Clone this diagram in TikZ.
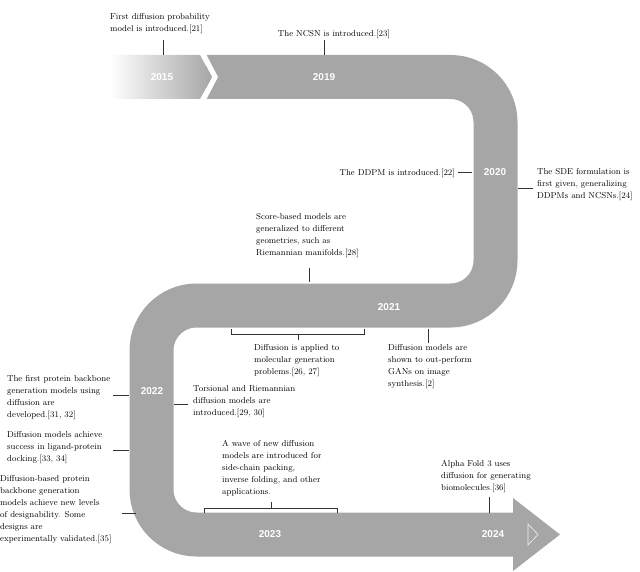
\documentclass[tikz,border=0pt]{standalone}
\usepackage{fontspec}
\newfontfamily\yearfont{Liberation Sans}
\begin{document}
\begin{tikzpicture}[x=1pt,y=-1pt,
  road/.style={draw=roadgray,line width=44pt,rounded corners=45pt},
  yr/.style={text=white,font=\yearfont\bfseries\fontsize{10}{12}\selectfont,inner sep=0},
  lab/.style={font=\fontsize{8.6}{12}\selectfont,align=left,anchor=north west,inner sep=0},
  tick/.style={draw=black!80,line width=0.6pt}]
\definecolor{roadgray}{HTML}{A6A6A6}
\useasboundingbox (0,0) rectangle (640,572);
% road
\draw[road] (206,77) -- (495.5,77) -- (495.5,305.5) -- (151.5,305.5) -- (151.5,534.5) -- (513,534.5);
\fill[roadgray] (513,498) -- (560,534.5) -- (513,571) -- cycle;
\fill[white] (200,54) -- (212,77) -- (200,100) -- (206,100) -- (218,77) -- (206,54) -- cycle;
\shade[left color=white,right color=roadgray] (110,55) -- (190,55) -- (200,55) -- (212,77) -- (200,99) -- (110,99) -- cycle;
\draw[white!85!roadgray,line width=0.6pt] (528,524) -- (538,534.5) -- (528,545) -- cycle;
% years
\node[yr] (y15) at (162,77) {2015};
\node[yr] (y19) at (324,77) {2019};
\node[yr] (y20) at (495,172) {2020};
\node[yr] (y21) at (389,307) {2021};
\node[yr] (y22) at (152,391) {2022};
\node[yr] (y23) at (270,534) {2023};
\node[yr] (y24) at (493,534) {2024};
% labels
\node[lab] (l1) at (110,13) {First diffusion probability\\model is introduced.[21]};
\coordinate (a1) at (163,40); \coordinate (b1) at (163,55);
\draw[tick] (a1) -- (b1);
\node[lab,anchor=base] (l2) at (334,37) {The NCSN is introduced.[23]};
\coordinate (a2) at (324,40); \coordinate (b2) at (324,55);
\draw[tick] (a2) -- (b2);
\node[lab,anchor=base east] (l3) at (455,176) {The DDPM is introduced.[22]};
\coordinate (b3) at (472,172);
\draw[tick] (458,172) -- (b3);
\node[lab] (l4) at (537,168) {The SDE formulation is\\first given, generalizing\\DDPMs and NCSNs.[24]};
\coordinate (a4) at (518,188);
\draw[tick] (a4) -- (533,188);
\node[lab] (l5) at (256,213) {Score-based models are\\generalized to different\\geometries, such as\\Riemannian manifolds.[28]};
\coordinate (a5) at (309,268); \coordinate (b5) at (309,282);
\draw[tick] (a5) -- (b5);
\draw[tick] (231,329) -- (231,334) -- (364,334) -- (364,329);
\coordinate (a6) at (298,334); \coordinate (b6) at (298,340);
\draw[tick] (a6) -- (b6);
\node[lab] (l6) at (254,344) {Diffusion is applied to\\molecular generation\\problems.[26, 27]};
\coordinate (a7) at (428,329); \coordinate (b7) at (428,343);
\draw[tick] (a7) -- (b7);
\node[lab] (l7) at (388,344) {Diffusion models are\\shown to out-perform\\GANs on image\\synthesis.[2]};
\node[lab] (l8) at (193,385) {Torsional and Riemannian\\diffusion models are\\introduced.[29, 30]};
\draw[tick] (174,404) -- (188,404);
\node[lab] (l9) at (7,375) {The first protein backbone\\generation models using\\diffusion are\\developed.[31, 32]};
\draw[tick] (113,395) -- (129,395);
\node[lab] (l10) at (7,431) {Diffusion models achieve\\success in ligand-protein\\docking.[33, 34]};
\draw[tick] (113,450) -- (129,450);
\node[lab] (l11) at (0,475) {Diffusion-based protein\\backbone generation\\models achieve new levels\\of designability. Some\\designs are\\experimentally validated.[35]};
\draw[tick] (122,513) -- (136,513);
\node[lab] (l12) at (222,440) {A wave of new diffusion\\models are introduced for\\side-chain packing,\\inverse folding, and other\\applications.};
\draw[tick] (204,513) -- (204,508) -- (337,508) -- (337,513);
\draw[tick] (271,508) -- (271,502);
\node[lab] (l13) at (441,460) {Alpha Fold 3 uses\\diffusion for generating\\biomolecules.[36]};
\draw[tick] (489,497) -- (489,513);
\end{tikzpicture}
\end{document}
